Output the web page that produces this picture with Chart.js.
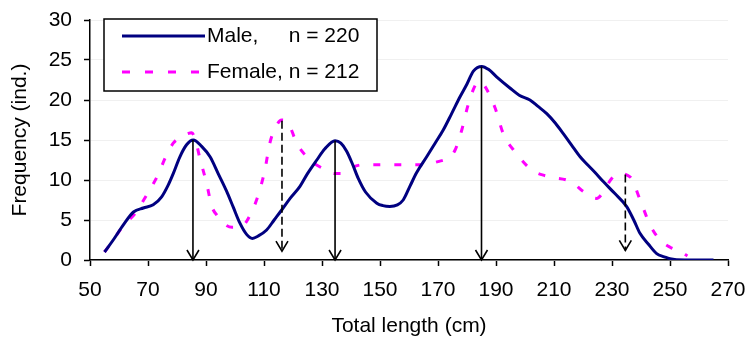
<!DOCTYPE html>
<html>
<head>
<meta charset="utf-8">
<script src="https://cdn.jsdelivr.net/npm/chart.js@4.4.1/dist/chart.umd.min.js"></script>
<style>
  html, body { margin: 0; padding: 0; background: #fff; }
  #wrap { width: 746px; height: 347px; position: relative; }
</style>
</head>
<body>
<div id="wrap"><canvas id="c"></canvas></div>
<script>
// ---- data ----
const xTickLabels = [50, 70, 90, 110, 130, 150, 170, 190, 210, 230, 250, 270];
const yTickLabels = [0, 5, 10, 15, 20, 25, 30];

const maleLength = [55, 58, 61.5, 65, 68.4, 71.8, 74.7, 77, 78.7, 81, 83.3, 85.6, 88.5, 91.4, 94.2, 97.1, 99.4, 101.7, 104, 106, 108, 110.9, 113.5, 116.1, 119, 122.4, 125, 128.2, 131, 134.5, 136.5, 138.5, 140.5, 142.5, 145, 148.9, 151, 153.4, 156, 158, 160.3, 162.6, 166.1, 169, 171.8, 174.7, 177.6, 180, 182.2, 185.1, 187.5, 190.2, 194.8, 198, 201.7, 204.5, 207.5, 210.5, 213.2, 216, 219, 221.3, 224, 227, 231, 235, 237.5, 239.7, 242.5, 245.4, 248, 250, 255, 260, 265];
const maleFreq = [1.0, 2.5, 4.4, 6.0, 6.5, 6.9, 7.9, 9.4, 10.8, 12.9, 14.4, 15.0, 14.2, 12.9, 10.8, 8.6, 6.6, 4.6, 3.2, 2.7, 3.0, 3.75, 5.0, 6.25, 7.7, 9.2, 10.8, 12.5, 13.9, 14.9, 14.6, 13.6, 12.0, 10.2, 8.5, 7.1, 6.8, 6.7, 6.9, 7.5, 9.2, 10.9, 12.9, 14.6, 16.25, 18.3, 20.4, 22.0, 23.6, 24.2, 23.8, 22.9, 21.5, 20.6, 20.0, 19.2, 18.3, 17.1, 15.8, 14.4, 12.9, 12.0, 11.0, 9.8, 8.3, 6.7, 5.0, 3.3, 2.0, 0.8, 0.4, 0.15, 0, 0, 0];

const femaleLength = [55, 58, 61.5, 65.5, 69.5, 73.4, 76, 78.7, 81, 83, 85.1, 86.5, 87.9, 90.2, 92, 94, 96, 99, 102.3, 105.2, 108, 110.3, 112, 114, 116.1, 118, 121.3, 124, 126.4, 130, 134.5, 137, 140, 144, 150, 158, 164, 170, 174.1, 175.9, 178.2, 180.4, 183.3, 184.6, 186.2, 189.7, 192.5, 196.6, 202.3, 206.3, 210, 214.4, 216.7, 220, 224.7, 227, 229.5, 232.2, 236.2, 239.7, 243.1, 246.6, 250, 254, 256];
const femaleFreq = [1.0, 2.5, 4.3, 5.8, 8.1, 10.6, 12.8, 14.6, 15.3, 15.7, 15.9, 14.8, 12.7, 9.6, 6.7, 5.5, 4.6, 4.1, 4.2, 5.6, 8.1, 11.25, 14.6, 16.6, 17.5, 17.3, 14.6, 13.2, 12.3, 11.5, 10.8, 10.8, 11.5, 11.9, 11.9, 11.9, 11.9, 12.3, 12.9, 13.75, 16.25, 19.4, 22.1, 22.3, 21.7, 19.0, 15.8, 13.5, 11.25, 10.6, 10.3, 10.0, 9.6, 8.6, 7.7, 8.5, 10.0, 10.8, 10.4, 7.5, 4.4, 2.5, 1.6, 1.0, 0.5];

const seriesNames = ['Male,', 'Female,'];
const sampleSizes = ['n = 220', 'n = 212'];

// modal arrows: solid = male modes, dashed = female modes
const solidArrowX = [85.5, 134.5, 185.0];
const solidArrowTop = [15.0, 14.9, 24.2];
const solidArrowTip = [0, 0, 0];
const dashedArrowX = [116.2, 234.6];
const dashedArrowTop = [17.4, 10.7];
const dashedArrowTip = [1.1, 1.2];

const xTitle = 'Total length (cm)';
const yTitle = 'Frequency (ind.)';

// ---- build datasets ----
const FONT = "'Liberation Sans', Arial, sans-serif";
const FSIZE = 21;
const toPts = (xs, ys) => xs.map((x, i) => ({ x: x, y: ys[i] }));

const arrowSets = [];
solidArrowX.forEach((x, i) => arrowSets.push({
  label: 'arrow', isArrow: true,
  data: [{ x: x, y: solidArrowTop[i] }, { x: x, y: solidArrowTip[i] }],
  borderColor: '#000', borderWidth: 1.6, pointRadius: 0, tension: 0
}));
dashedArrowX.forEach((x, i) => arrowSets.push({
  label: 'arrow', isArrow: true,
  data: [{ x: x, y: dashedArrowTop[i] }, { x: x, y: dashedArrowTip[i] }],
  borderColor: '#000', borderWidth: 1.6, borderDash: [8, 4], pointRadius: 0, tension: 0
}));

const maleSet = {
  label: seriesNames[0], legendN: sampleSizes[0],
  data: toPts(maleLength, maleFreq),
  borderColor: '#000080', borderWidth: 3, pointRadius: 0,
  cubicInterpolationMode: 'monotone'
};
const femaleSet = {
  label: seriesNames[1], legendN: sampleSizes[1],
  data: toPts(femaleLength, femaleFreq),
  borderColor: '#FF00FF', borderWidth: 3, borderDash: [7, 14], pointRadius: 0,
  cubicInterpolationMode: 'monotone'
};

// arrowheads at the tip of each arrow dataset
const arrowHeads = {
  id: 'arrowHeads',
  afterDatasetsDraw(chart) {
    const ctx = chart.ctx, xs = chart.scales.x, ys = chart.scales.y;
    ctx.save();
    ctx.strokeStyle = '#000';
    ctx.lineWidth = 1.6;
    ctx.setLineDash([]);
    chart.data.datasets.forEach(ds => {
      if (!ds.isArrow) return;
      const tip = ds.data[ds.data.length - 1];
      const px = xs.getPixelForValue(tip.x), py = ys.getPixelForValue(tip.y);
      ctx.beginPath();
      ctx.moveTo(px - 6, py - 10);
      ctx.lineTo(px, py);
      ctx.lineTo(px + 6, py - 10);
      ctx.stroke();
    });
    ctx.restore();
  }
};

// framed legend inside the plot
const boxLegend = {
  id: 'boxLegend',
  afterDraw(chart) {
    const ctx = chart.ctx;
    const series = chart.data.datasets.filter(d => !d.isArrow);
    const bx = 104, by = 19, bw = 273, bh = 72;
    ctx.save();
    ctx.fillStyle = '#fff';
    ctx.fillRect(bx, by, bw, bh);
    ctx.strokeStyle = '#000';
    ctx.lineWidth = 1.5;
    ctx.strokeRect(bx, by, bw, bh);
    ctx.font = FSIZE + 'px ' + FONT;
    const labelW = Math.max(...series.map(d => ctx.measureText(d.label + ' ').width));
    const rows = [36, 72];
    series.forEach((ds, i) => {
      const y = rows[i];
      ctx.strokeStyle = ds.borderColor;
      ctx.lineWidth = 3;
      ctx.setLineDash(ds.borderDash ? [8, 15] : []);
      ctx.beginPath();
      ctx.moveTo(122, y);
      ctx.lineTo(ds.borderDash ? 200 : 205, y);
      ctx.stroke();
      ctx.setLineDash([]);
      ctx.fillStyle = '#000';
      ctx.textBaseline = 'middle';
      ctx.textAlign = 'left';
      ctx.fillText(ds.label, 207, y);
      ctx.fillText(ds.legendN, 207 + labelW, y);
    });
    ctx.restore();
  }
};

new Chart(document.getElementById('c'), {
  type: 'line',
  data: { datasets: [...arrowSets, maleSet, femaleSet] },
  options: {
    responsive: true,
    maintainAspectRatio: false,
    animation: false,
    layout: { padding: { top: 20, right: 18, left: 0, bottom: 0 } },
    plugins: { legend: { display: false }, tooltip: { enabled: false } },
    scales: {
      x: {
        type: 'linear',
        min: xTickLabels[0], max: xTickLabels[xTickLabels.length - 1],
        afterBuildTicks(s) { s.ticks = xTickLabels.map(v => ({ value: v })); },
        afterFit(s) { s.height = 87; s.paddingLeft = 0; s.paddingRight = 0; },
        ticks: { color: '#000', font: { family: FONT, size: FSIZE }, padding: 12, maxRotation: 0, autoSkip: false },
        grid: { drawOnChartArea: false, tickLength: 6, tickColor: '#000', tickWidth: 1.5 },
        border: { color: '#000', width: 1.5 },
        title: { display: true, text: xTitle, color: '#000', font: { family: FONT, size: FSIZE, lineHeight: 1.2 }, padding: { top: 0, bottom: 8 } }
      },
      y: {
        type: 'linear',
        min: yTickLabels[0], max: yTickLabels[yTickLabels.length - 1],
        afterBuildTicks(s) { s.ticks = yTickLabels.map(v => ({ value: v })); },
        afterFit(s) { s.width = 90; s.paddingTop = 0; s.paddingBottom = 0; },
        ticks: { color: '#000', font: { family: FONT, size: FSIZE }, padding: 12 },
        grid: { color: '#f0f0f0', tickLength: 6, tickColor: '#000', tickWidth: 1.5 },
        border: { color: '#000', width: 1.5 },
        title: { display: true, text: yTitle, color: '#000', font: { family: FONT, size: FSIZE, lineHeight: 1.2 }, padding: { top: 8, bottom: 0 } }
      }
    }
  },
  plugins: [arrowHeads, boxLegend]
});
</script>
</body>
</html>
